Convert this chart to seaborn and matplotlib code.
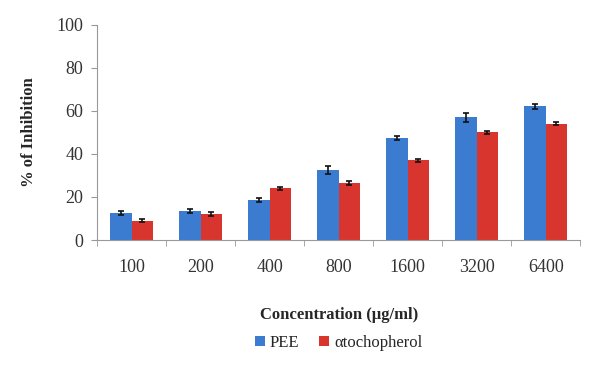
import numpy as np
import pandas as pd
import matplotlib
matplotlib.use("Agg")
import matplotlib.pyplot as plt
import seaborn as sns

# data
concentrations = ["100", "200", "400", "800", "1600", "3200", "6400"]
pee = [12.5, 13.5, 18.5, 32.5, 47.5, 57.0, 62.0]
pee_err = [1.0, 1.0, 1.0, 2.0, 1.0, 2.0, 1.0]
toco = [9.0, 12.0, 24.0, 26.5, 37.0, 50.0, 54.0]
toco_err = [0.8, 0.8, 0.8, 0.8, 0.8, 0.8, 0.8]
series = ["PEE", "\u03b1tochopherol"]

df = pd.DataFrame({
    "conc": concentrations * 2,
    "value": pee + toco,
    "err": pee_err + toco_err,
    "series": [series[0]] * 7 + [series[1]] * 7,
})

sns.set_style("white")
plt.rcParams["font.family"] = ["Liberation Serif", "DejaVu Serif"]

fig, ax = plt.subplots(figsize=(5.89, 3.78), dpi=100)
palette = {series[0]: "#3b7bd0", series[1]: "#d8352f"}
sns.barplot(data=df, x="conc", y="value", hue="series", palette=palette,
            width=0.62, gap=0.0, ax=ax, saturation=1, edgecolor="none")

# error bars at bar centres
for cont, s in zip(ax.containers, series):
    sub = df[df["series"] == s]
    xs = [p.get_x() + p.get_width() / 2 for p in cont.patches]
    ax.errorbar(xs, sub["value"].values, yerr=sub["err"].values, fmt="none",
                ecolor="#111111", elinewidth=1.2, capsize=2.5, capthick=1.2)

ax.set_ylim(0, 100)
ax.set_yticks(range(0, 101, 20))
ax.set_xlim(-0.5, 6.5)
ax.set_xlabel("Concentration (\u00b5g/ml)", fontsize=12, fontweight="bold", labelpad=22)
ax.set_ylabel("% of Inhibition", fontsize=12, fontweight="bold", labelpad=14)
ax.tick_params(axis="both", labelsize=13, colors="#333333")
ax.tick_params(axis="y", length=4, color="#999999", direction="out", left=True, pad=6)
ax.tick_params(axis="x", length=0, pad=14)
# minor ticks between categories on x
ax.set_xticks(np.arange(-0.5, 7, 1), minor=True)
ax.tick_params(axis="x", which="minor", length=4, color="#999999", bottom=True)
for side in ["top", "right"]:
    ax.spines[side].set_visible(False)
for side in ["left", "bottom"]:
    ax.spines[side].set_color("#999999")
    ax.spines[side].set_linewidth(0.8)

ax.legend(loc="upper center", bbox_to_anchor=(0.5, -0.37), ncol=2, frameon=False,
          fontsize=12, handlelength=0.6, handleheight=0.6, handletextpad=0.3,
          columnspacing=1.2)

fig.subplots_adjust(left=0.165, right=0.985, top=0.935, bottom=0.365)
fig.savefig("out.png", dpi=100)
